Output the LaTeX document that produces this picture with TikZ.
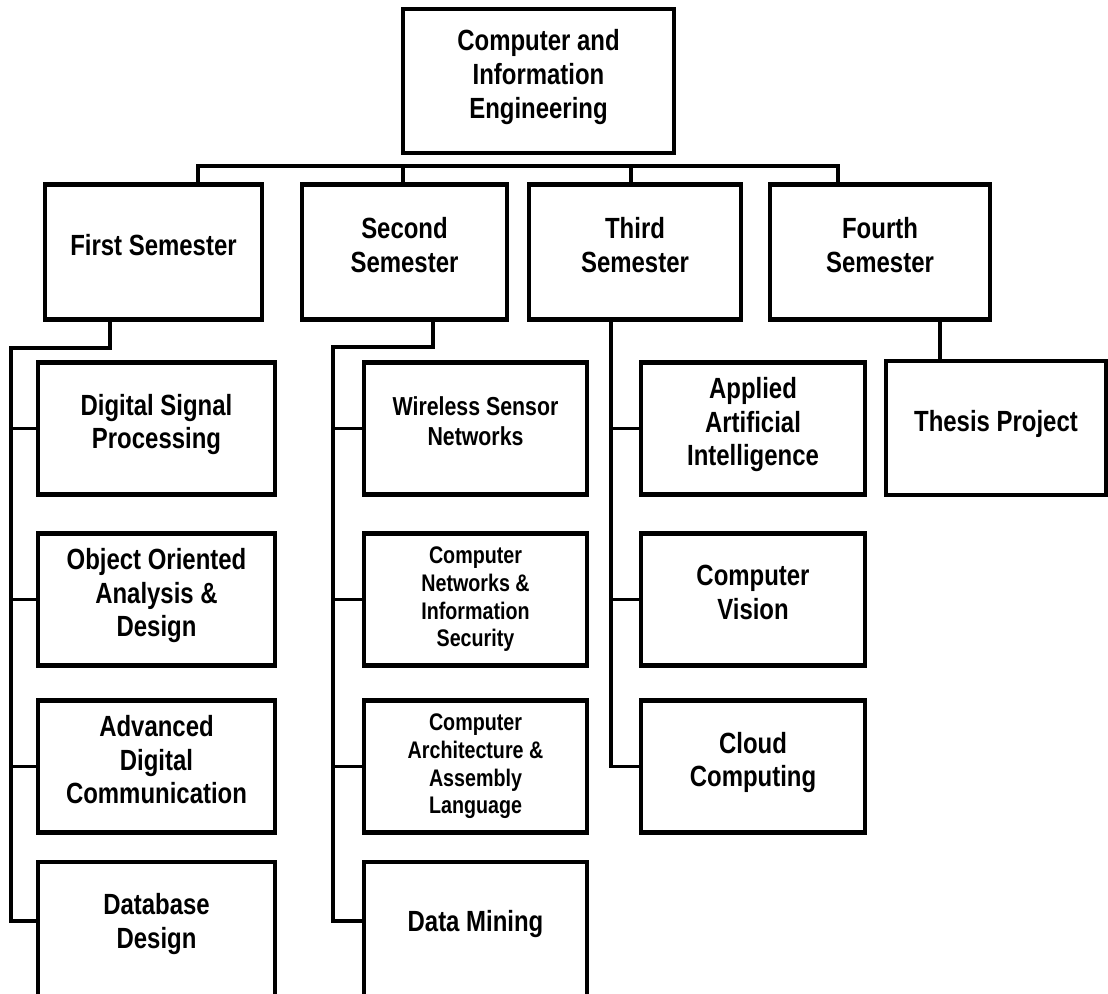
\documentclass[tikz,border=0pt]{standalone}
\usepackage{fontspec}
\setmainfont[FakeStretch=0.82]{Liberation Sans}
\usetikzlibrary{calc}

\begin{document}
\begin{tikzpicture}[
  x=0.5pt, y=-0.5pt,
  font=\bfseries\fontsize{14.6}{16.8}\selectfont,
  box/.style={
    rectangle, draw=black, line width=2.2pt, fill=white,
    align=center, inner sep=0pt,
  },
  raised/.style={execute at end node={\rule[-7pt]{0pt}{7pt}}},
  head/.style={box, raised, minimum width=135.5pt, minimum height=72pt},
  sem/.style={box, raised, minimum height=67.5pt},
  course/.style={box, raised, minimum height=66pt},
  coursesmall/.style={box, minimum height=66pt, font=\bfseries\fontsize{12}{13.8}\selectfont},
  lastrow/.style={course, minimum height=68pt, execute at end node={\rule[-9pt]{0pt}{9pt}}},
  colA/.style={minimum width=118.5pt},
  colB/.style={minimum width=111.5pt},
  colC/.style={minimum width=112pt},
  midtext/.style={font=\bfseries\fontsize{13}{15}\selectfont},
  link/.style={line width=1.8pt, draw=black},
]

\useasboundingbox (0,0) rectangle (1108,994);
\clip (0,0) rectangle (1108,994);

% Programme
\node[head] (cie) at (538.5,81) {Computer and\\Information\\Engineering};

% Semesters
\node[sem, minimum width=108.5pt] (sem1) at (153.5,252) {First Semester};
\node[sem, minimum width=102.5pt] (sem2) at (404.5,252) {Second\\Semester};
\node[sem, minimum width=106pt]   (sem3) at (635,252)   {Third\\Semester};
\node[sem, minimum width=110pt]   (sem4) at (880,252)   {Fourth\\Semester};

% First semester courses
\node[course, colA]  (dsp)  at (156.5,428.5) {Digital Signal\\Processing};
\node[course, colA]  (ooad) at (156.5,599.5) {Object Oriented\\Analysis \&\\Design};
\node[course, colA]  (adc)  at (156.5,766.5) {Advanced\\Digital\\Communication};
\node[lastrow, colA] (dbd)  at (156.5,930)   {Database\\Design};

% Second semester courses
\node[course, colB, midtext] (wsn)  at (475.5,428.5) {Wireless Sensor\\Networks};
\node[coursesmall, colB]     (cnis) at (475.5,599.5) {Computer\\Networks \&\\Information\\Security};
\node[coursesmall, colB]     (caal) at (475.5,766.5) {Computer\\Architecture \&\\Assembly\\Language};
\node[lastrow, colB]         (dm)   at (475.5,930)   {Data Mining};

% Third semester courses
\node[course, colC] (aai) at (753,428.5) {Applied\\Artificial\\Intelligence};
\node[course, colC] (cv)  at (753,599.5) {Computer\\Vision};
\node[course, colC] (cc)  at (753,766.5) {Cloud\\Computing};

% Fourth semester
\node[course, minimum width=110pt, minimum height=67pt] (tp) at (996,428) {Thesis Project};

% Bus to the semesters
\coordinate (bus1) at (198,166);
\coordinate (bus2) at (403,166);
\coordinate (bus3) at (631,166);
\coordinate (bus4) at (838,166);
\draw[link] (bus1 |- sem1.north) -- (bus1) -- (bus4) -- (bus4 |- sem4.north);
\draw[link] (bus2) -- (bus2 |- sem2.north);
\draw[link] (bus3) -- (bus3 |- sem3.north);

% First semester branch
\coordinate (drop1) at (110,348);
\coordinate (spine1) at (11,348);
\draw[link] (drop1 |- sem1.south) -- (drop1) -- (spine1) |- ([yshift=4.5pt]dbd.west);
\draw[link] (spine1 |- dsp.west) -- (dsp.west);
\draw[link] (spine1 |- ooad.west) -- (ooad.west);
\draw[link] (spine1 |- adc.west) -- (adc.west);

% Second semester branch
\coordinate (drop2) at (433,347);
\coordinate (spine2) at (333,347);
\draw[link] (drop2 |- sem2.south) -- (drop2) -- (spine2) |- ([yshift=4.5pt]dm.west);
\draw[link] (spine2 |- wsn.west) -- (wsn.west);
\draw[link] (spine2 |- cnis.west) -- (cnis.west);
\draw[link] (spine2 |- caal.west) -- (caal.west);

% Third semester branch
\coordinate (spine3) at (611,321);
\draw[link] (spine3 |- sem3.south) |- (cc.west);
\draw[link] (spine3 |- aai.west) -- (aai.west);
\draw[link] (spine3 |- cv.west) -- (cv.west);

% Fourth semester branch
\coordinate (drop4) at (940,321);
\draw[link] (drop4 |- sem4.south) -- (drop4 |- tp.north);

\end{tikzpicture}
\end{document}
